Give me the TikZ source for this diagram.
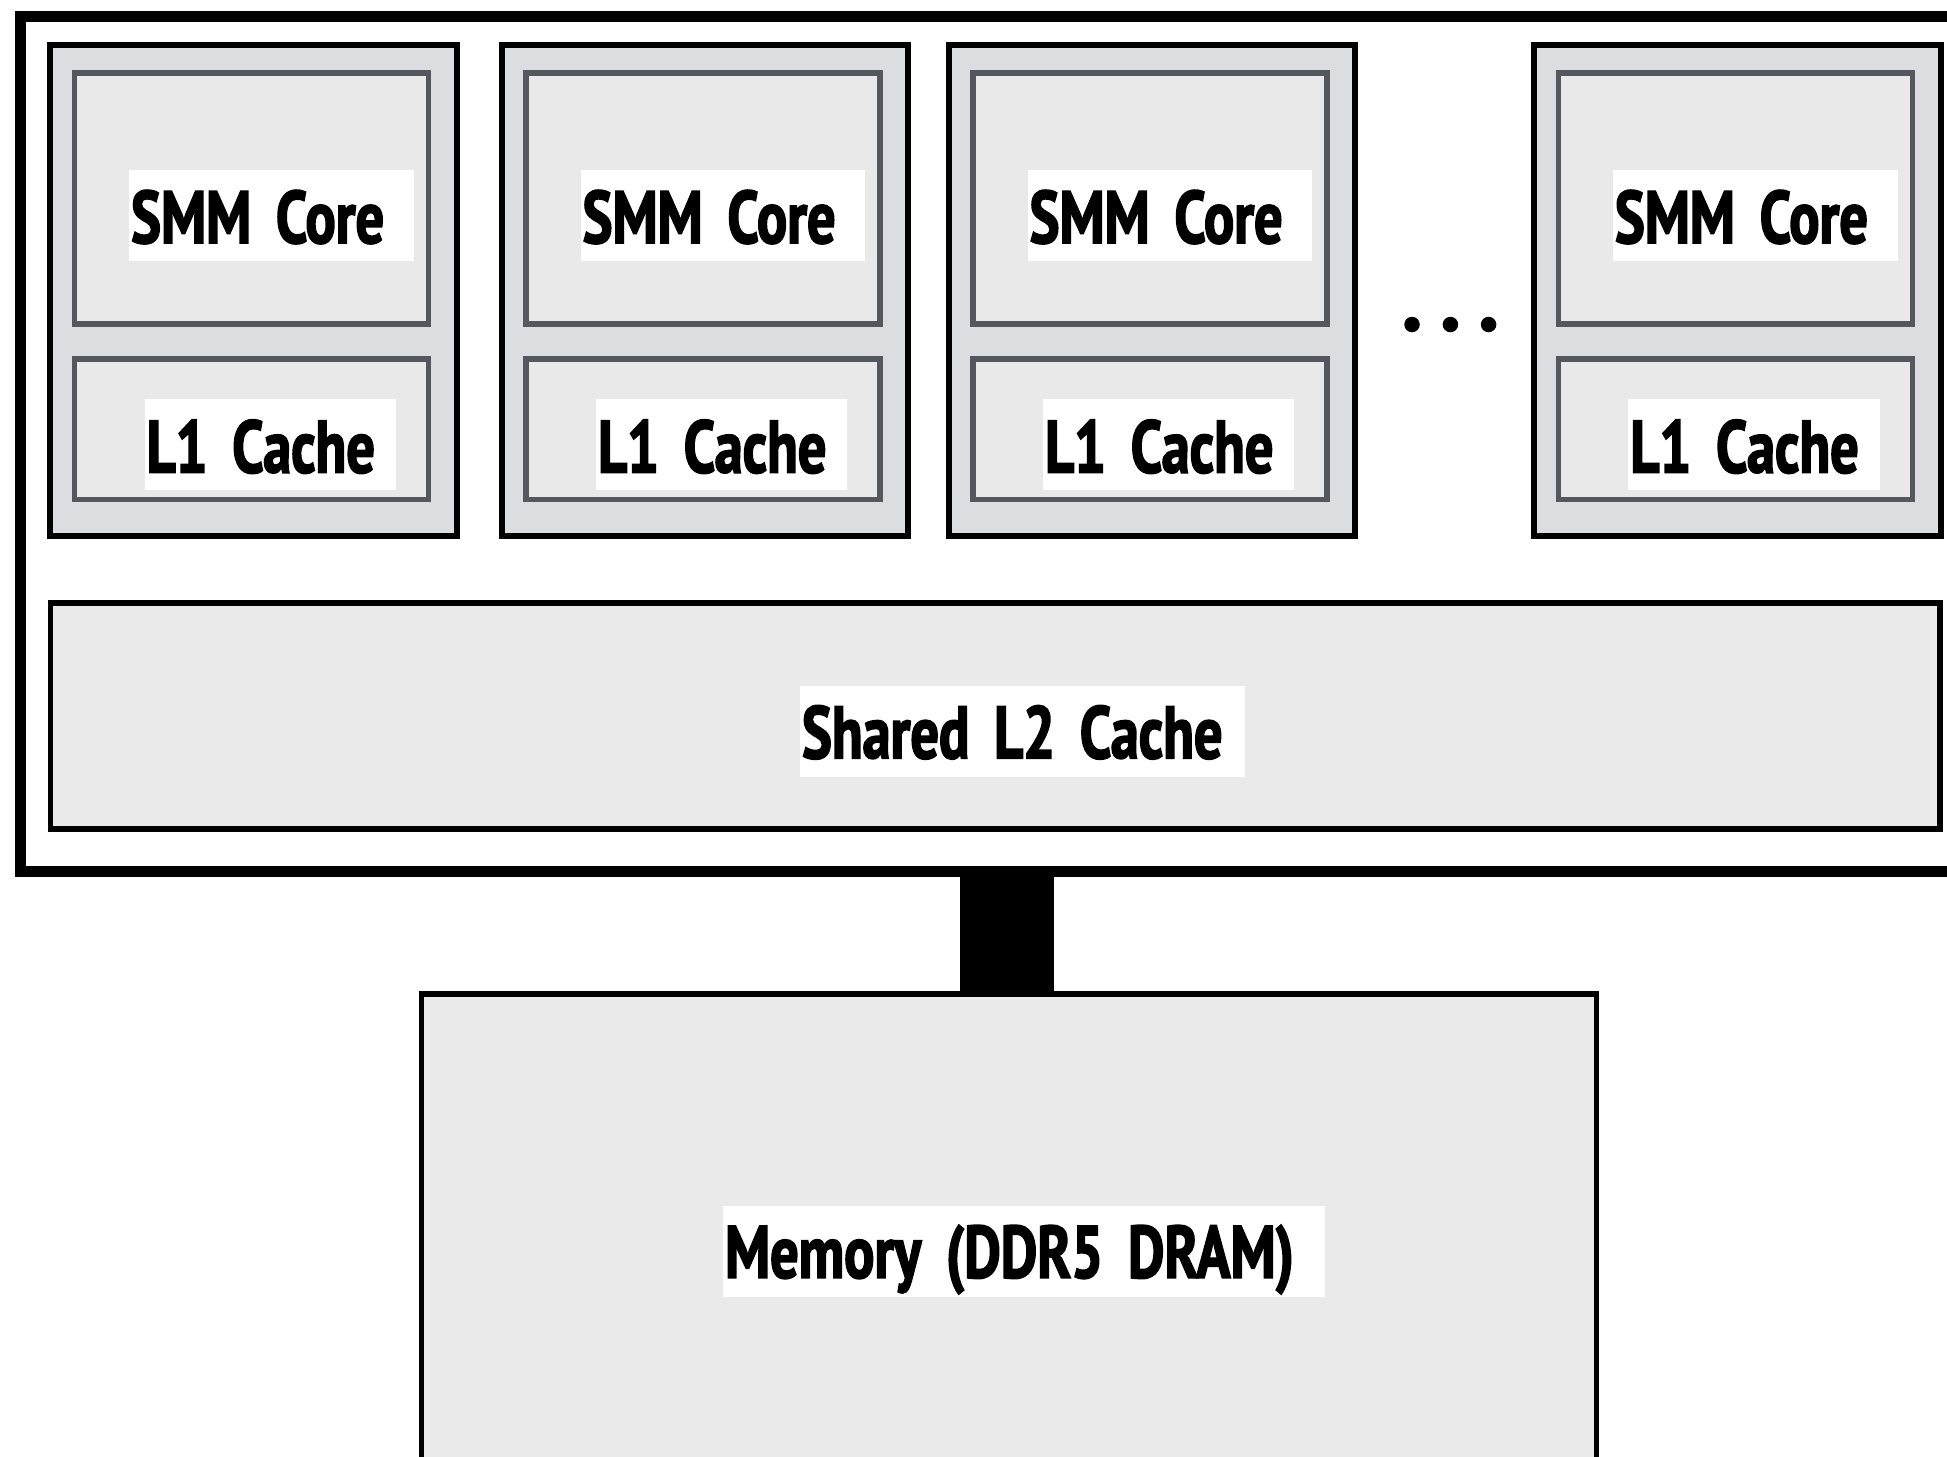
\documentclass[tikz,border=0pt]{standalone}
\usepackage{fontspec}
\newfontfamily\lblfont{PT Sans}[FakeStretch=0.76, FakeBold=2.2]
\protected\def\lblsetup{\lblfont\bfseries\fontsize{21.1}{24}\selectfont\spaceskip=0.1em\relax}
\newlength\px
\setlength\px{0.01cm}
\definecolor{smfill}{HTML}{DCDDE0}
\definecolor{infill}{HTML}{E9E9E9}
\definecolor{instroke}{HTML}{54585E}
\definecolor{bigfill}{HTML}{EAEAEA}
\tikzset{
  every node/.style={outer sep=0pt},
  frame/.style={draw=black, line width=11\px, fill=white},
  smbox/.style={draw=black, line width=5.8\px, fill=smfill, anchor=north west, inner sep=0pt},
  inbox/.style={draw=instroke, line width=5.5\px, fill=infill, anchor=north west, inner sep=0pt},
  bigbox/.style={draw=black, line width=5.6\px, fill=bigfill, anchor=north west, inner sep=0pt},
  lbl/.style={fill=white, anchor=north west, inner xsep=2\px, inner ysep=0pt, align=left,
    font=\lblsetup},
  dotmark/.style={circle, fill=black, minimum size=15.5\px, inner sep=0pt}
}
\begin{document}
\begin{tikzpicture}[x=0.01cm, y=-0.01cm]
\useasboundingbox (0,0) rectangle (1947,1456);
\clip (0,0) rectangle (1947,1456);
\fill[white] (0,0) rectangle (1947,1456);
% outer chip frame
\node[frame, anchor=north west, minimum width=1960\px, minimum height=855\px, inner sep=0pt] (chip) at (20.7,16) {};
% SMM blocks
\foreach \i/\L in {1/50.3, 2/501.8, 3/948.8, 4/1534.1} {
  \node[smbox, minimum width=406.5\px, minimum height=491\px] (sm\i) at (\L,45) {};
  \node[inbox, minimum width=353.9\px, minimum height=251\px] (core\i) at ({\L+24.3},73) {};
  \node[inbox, minimum width=353.9\px, minimum height=140.5\px] (lone\i) at ({\L+24.3},359) {};
  \node[lbl, text width=280.6\px, text height=73\px, text depth=18\px] (corelbl\i) at ({\L+78.8},170) {SMM Core};
  \node[lbl, text width=247.1\px, text height=73.6\px, text depth=17.2\px] (lonelbl\i) at ({\L+94.3},399) {L1 Cache};
}
% ellipsis
\node[dotmark] (d1) at (1412,324.5) {};
\node[dotmark] (d2) at (1450.4,324.5) {};
\node[dotmark] (d3) at (1488.6,324.5) {};
% shared L2
\node[bigbox, minimum width=1889.7\px, minimum height=226.1\px] (ltwo) at (50.5,602.7) {};
\node[lbl, text width=441\px, text height=72.3\px, text depth=18.4\px] (ltwolbl) at (800,686) {Shared L2 Cache};
% memory
\node[bigbox, minimum width=1174.8\px, minimum height=600\px] (mem) at (421.5,994) {};
\node[lbl, text width=598\px, text height=71.8\px, text depth=19.2\px] (memlbl) at (723,1206) {Memory (DDR5 DRAM)};
% connector
\draw[line width=93.5\px] ([xshift=-1.7\px]mem.north |- chip.south) -- ([xshift=-1.7\px, yshift=-2.6\px]mem.north);
\end{tikzpicture}
\end{document}
